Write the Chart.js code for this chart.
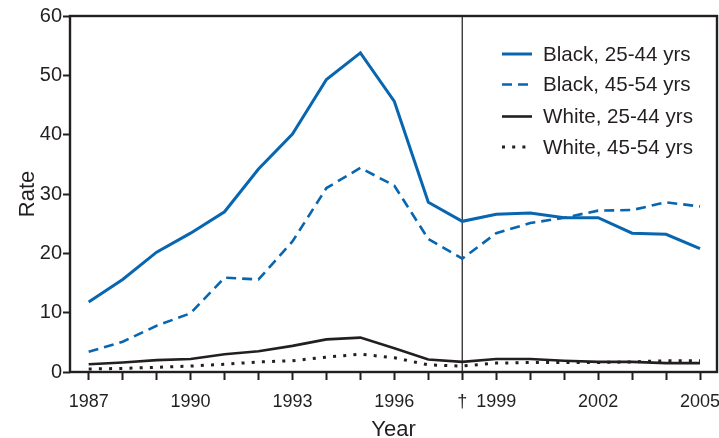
<!DOCTYPE html>
<html>
<head>
<meta charset="utf-8">
<script src="https://cdn.jsdelivr.net/npm/chart.js@4/dist/chart.umd.min.js"></script>
<style>
html,body{margin:0;padding:0;background:#fff;}
#wrap{position:relative;width:719px;height:438px;}
canvas{display:block;}
</style>
</head>
<body>
<div id="wrap"><canvas id="c" width="719" height="438"></canvas></div>
<script>
const years = [1987,1988,1989,1990,1991,1992,1993,1994,1995,1996,1997,1998,1999,2000,2001,2002,2003,2004,2005];
const black2544 = [11.8,15.6,20.2,23.4,27.0,34.2,40.1,49.3,53.8,45.6,28.6,25.4,26.6,26.8,26.0,26.0,23.4,23.2,20.8];
const black4554 = [3.4,5.1,7.8,9.9,15.9,15.6,22.0,31.0,34.4,31.4,22.4,19.1,23.4,25.1,26.0,27.2,27.3,28.6,27.9];
const white2544 = [1.3,1.6,2.0,2.2,3.0,3.5,4.4,5.5,5.8,4.0,2.1,1.7,2.2,2.2,1.9,1.7,1.7,1.5,1.5];
const white4554 = [0.5,0.6,0.8,1.0,1.3,1.7,1.9,2.5,3.0,2.4,1.2,1.0,1.5,1.6,1.6,1.6,1.7,1.9,1.9];
const labeledYears = {1987:'1987',1990:'1990',1993:'1993',1996:'1996',1998:'\u2020',1999:'1999',2002:'2002',2005:'2005'};
const yTicks = [0,10,20,30,40,50,60];
const seriesLabels = ['Black, 25-44 yrs','Black, 45-54 yrs','White, 25-44 yrs','White, 45-54 yrs'];
const breakYear = 1998;

const BLUE = '#0866b0';
const DARK = '#231f20';
const FONT = "'Liberation Sans', Arial, Helvetica, sans-serif";

function pts(arr){ return years.map((y,i)=>({x:y,y:arr[i]})); }

const datasets = [
  {label:seriesLabels[0], data:pts(black2544), borderColor:BLUE, borderWidth:3, borderDash:[]},
  {label:seriesLabels[1], data:pts(black4554), borderColor:BLUE, borderWidth:2.6, borderDash:[10,6]},
  {label:seriesLabels[2], data:pts(white2544), borderColor:DARK, borderWidth:2.6, borderDash:[]},
  {label:seriesLabels[3], data:pts(white4554), borderColor:DARK, borderWidth:3, borderDash:[3,7.2]}
].map(d=>Object.assign(d,{pointRadius:0,fill:false,tension:0,borderCapStyle:'butt',borderJoinStyle:'miter'}));

const framePlugin = {
  id:'frame',
  beforeDatasetsDraw(chart){
    const {ctx, chartArea:a, scales:{x}} = chart;
    const px = x.getPixelForValue(breakYear);
    ctx.save();
    ctx.strokeStyle = '#3a3a3a';
    ctx.lineWidth = 1.4;
    ctx.beginPath();
    ctx.moveTo(px, a.top); ctx.lineTo(px, a.bottom);
    ctx.stroke();
    ctx.restore();
  },
  afterDraw(chart){
    const {ctx, chartArea:a} = chart;
    ctx.save();
    ctx.strokeStyle = DARK;
    ctx.lineWidth = 2.4;
    ctx.strokeRect(a.left, a.top, a.right - a.left, a.bottom - a.top);
    // legend
    const rows = [54, 84.5, 116.5, 147];
    ctx.font = "20.6px " + FONT;
    ctx.textBaseline = 'middle';
    chart.data.datasets.forEach((ds,i)=>{
      const y = rows[i];
      ctx.strokeStyle = ds.borderColor;
      ctx.lineWidth = ds.borderWidth;
      ctx.lineCap = 'butt';
      ctx.setLineDash(i===3 ? [3,7.2] : ds.borderDash);
      ctx.beginPath();
      ctx.moveTo(502, y); ctx.lineTo(532, y);
      ctx.stroke();
      ctx.setLineDash([]);
      ctx.fillStyle = DARK;
      ctx.fillText(ds.label, 543, y + 1);
    });
    ctx.restore();
  }
};

new Chart(document.getElementById('c'), {
  type:'line',
  data:{datasets},
  plugins:[framePlugin],
  options:{
    responsive:false,
    animation:false,
    devicePixelRatio:1,
    layout:{padding:{top:16,right:2,left:0,bottom:0}},
    plugins:{legend:{display:false},tooltip:{enabled:false}},
    scales:{
      x:{
        type:'linear',
        min:1986.45,
        max:2005.5,
        afterBuildTicks(s){ s.ticks = years.map(v=>({value:v})); },
        afterFit(s){ s.height = 66; s.paddingLeft = 0; s.paddingRight = 0; },
        border:{display:false},
        grid:{drawOnChartArea:false, drawTicks:true, tickLength:8, tickWidth:2, color:DARK},
        ticks:{
          autoSkip:false, maxRotation:0, minRotation:0, padding:11,
          color:DARK, font:{family:FONT,size:18},
          callback:(v)=> labeledYears[v] !== undefined ? labeledYears[v] : ''
        },
        title:{display:true,text:'Year',color:DARK,font:{family:FONT,size:22,lineHeight:1},padding:{top:0,bottom:-3}}
      },
      y:{
        min:0,max:60,
        afterBuildTicks(s){ s.ticks = yTicks.map(v=>({value:v})); },
        afterFit(s){ s.width = 70; s.paddingTop = 0; s.paddingBottom = 0; },
        border:{display:false},
        grid:{drawOnChartArea:false, drawTicks:true, tickLength:7, tickWidth:2, color:DARK},
        ticks:{color:DARK,font:{family:FONT,size:20},padding:1},
        title:{display:true,text:'Rate',color:DARK,font:{family:FONT,size:22},padding:{top:15,bottom:0}}
      }
    }
  }
});
</script>
</body>
</html>
